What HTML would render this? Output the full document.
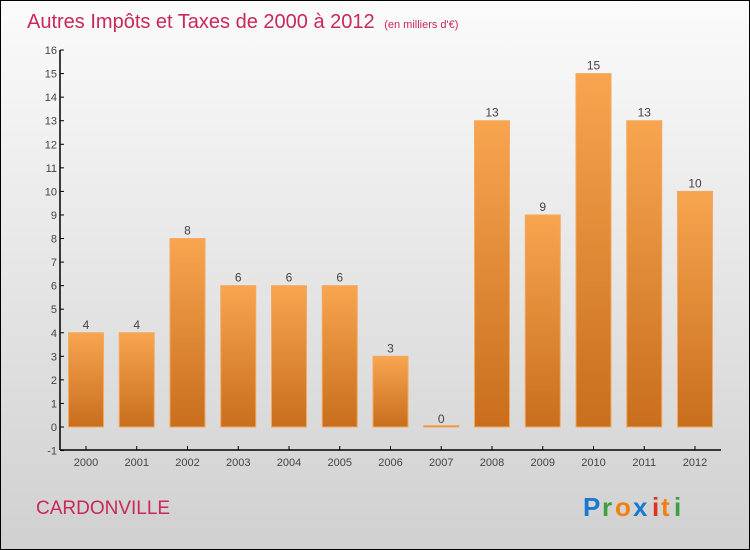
<!DOCTYPE html>
<html><head><meta charset="utf-8"><style>
body{margin:0;}
#wrap{position:relative;width:748px;height:548px;border:1px solid #000;background:linear-gradient(#fbfbfb,#d0d0d0);overflow:hidden;font-family:"Liberation Sans",sans-serif;}
</style></head><body>
<div id="wrap">
<svg id="chart" width="748" height="548">
<defs><linearGradient id="bg" x1="0" y1="0" x2="0" y2="1"><stop offset="0" stop-color="#f8a550"/><stop offset="1" stop-color="#c86e1c"/></linearGradient></defs>
<text x="26" y="27" font-size="20" fill="#c8285a">Autres Impôts et Taxes de 2000 à 2012 <tspan font-size="11" dx="4">(en milliers d'€)</tspan></text>
<text x="35" y="513" font-size="19" fill="#c8285a">CARDONVILLE</text>
<g font-size="26" font-weight="bold">
<text x="582" y="515" fill="#1a78d0">P</text><text x="601" y="515" fill="#3aa040">r</text><text x="614" y="515" fill="#f08010">o</text><text x="632" y="515" fill="#1a78d0">x</text><text x="651" y="515" fill="#e03020">i</text><text x="660" y="515" fill="#f08010">t</text><text x="673" y="515" fill="#3aa040">i</text>
</g>
</svg>
</div>
<script>
const years=["2000","2001","2002","2003","2004","2005","2006","2007","2008","2009","2010","2011","2012"];
const values=[4,4,8,6,6,6,3,0,13,9,15,13,10];
const yTicks=[-1,0,1,2,3,4,5,6,7,8,9,10,11,12,13,14,15,16];
const svg=document.getElementById('chart');
const NS='http://www.w3.org/2000/svg';
const y0=426,unit=23.56,xAxisY=449,yAxisX=59;
function y(v){return y0-v*unit;}
function x(i){return 85+i*50.75;}
function mk(tag,attrs){const e=document.createElementNS(NS,tag);for(const k in attrs)e.setAttribute(k,attrs[k]);svg.appendChild(e);return e;}
let e=mk('line',{x1:yAxisX,y1:y(16),x2:yAxisX,y2:xAxisY,stroke:'#000','stroke-width':1.5});


e=mk('line',{x1:yAxisX,y1:xAxisY,x2:720,y2:xAxisY,stroke:'#000','stroke-width':1.5});


yTicks.forEach(t=>{
 const l=mk('line',{x1:yAxisX,y1:y(t),x2:yAxisX+4,y2:y(t),stroke:'#000'});
 
 
 const tx=mk('text',{x:yAxisX-3,y:y(t)+4,'font-size':11,fill:'#444','text-anchor':'end'});
 tx.textContent=t;
 
 
});
values.forEach((v,i)=>{
 const cx=x(i),w=35;
 const h=Math.max(v*unit,1.5);
 const r=mk('rect',{x:cx-w/2,y:y0-h,width:w,height:h,fill:'url(#bg)',stroke:'#f4a860','stroke-width':1});
 
 
 const lb=mk('text',{x:cx,y:y(v)-4,'font-size':12,fill:'#444','text-anchor':'middle'});
 lb.textContent=v;
 
 
 const tk=mk('line',{x1:cx,y1:xAxisY-4,x2:cx,y2:xAxisY,stroke:'#000'});
 
 
 const xl=mk('text',{x:cx,y:xAxisY+16,'font-size':11,fill:'#444','text-anchor':'middle'});
 xl.textContent=years[i];
 
 
});
</script>
</body></html>
